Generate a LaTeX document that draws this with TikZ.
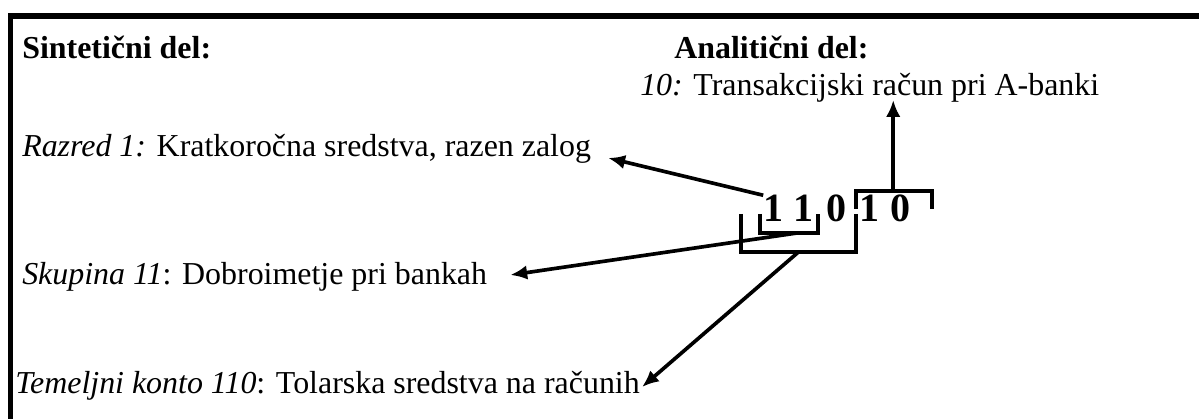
\documentclass[tikz,border=0pt]{standalone}
\usepackage{fontspec}
\setmainfont{Liberation Serif}
\usetikzlibrary{arrows.meta,calc}

\begin{document}
\fontsize{22.7pt}{27pt}\selectfont
\begin{tikzpicture}[x=0.025cm, y=-0.025cm,
        txt/.style={anchor=base west, inner sep=0pt},
        digit/.style={anchor=base, inner sep=0pt, font=\fontsize{28.5pt}{32pt}\selectfont\bfseries},
        brk/.style={line width=2.5pt},
        arr/.style={line width=2.6pt, -{Latex[length=0.42cm, width=0.36cm]}}]
        \useasboundingbox (0,0) rectangle (1199,419);
        \draw[line width=3.9pt] (10.5,419) -- (10.5,16) -- (1199,16);

        \node[txt, font=\bfseries] (syn) at (22,59) {Sintetični del:};
        \node[txt, font=\bfseries] (ana) at (674,59) {Analitični del:};
        \node[txt] (ten) at (640,96) {\textit{10:} Transakcijski račun pri A-banki};
        \node[txt] (razred) at (22,157) {\textit{Razred 1:} Kratkoročna sredstva, razen zalog};
        \node[txt] (skup) at (22,285) {\textit{Skupina 11}: Dobroimetje pri bankah};
        \node[txt] (temk) at (15,394) {\textit{Temeljni konto 110}: Tolarska sredstva na računih};

        \node[digit] (d1) at (773.5,222) {1};
        \node[digit] (d2) at (803.5,222) {1};
        \node[digit] (d3) at (837,222) {0};
        \node[digit] (d4) at (869.5,222) {1};
        \node[digit] (d5) at (901,222) {0};

        \draw[brk] (760,214) -- (760,233) -- coordinate[pos=0.64] (grp) (818,233) -- (818,214);
        \draw[brk] (741,214) -- (741,252) -- coordinate (acc) (856,252) -- (856,214);
        \draw[brk] (856,209) -- (856,191) -- coordinate[pos=0.49] (anl) (932,191) -- (932,209);

        \draw[arr] (d1.north west) -- ($(razred.base east)+(17,1)$);
        \draw[arr] (grp) -- ($(skup.base east)+(23,-10)$);
        \draw[arr] (acc) -- ($(temk.base east)+(2,-7)$);
        \draw[arr] (anl) -- ($(anl |- ten.base)+(0,4)$);
\end{tikzpicture}
\end{document}
